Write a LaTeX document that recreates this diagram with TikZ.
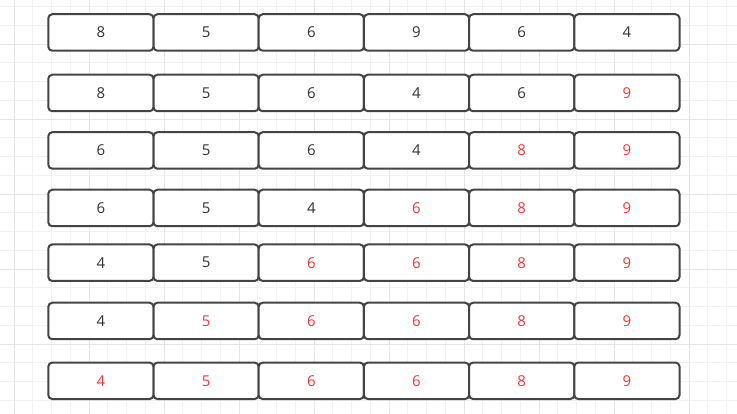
\documentclass[tikz,border=0pt]{standalone}
\usepackage{fontspec}
\setmainfont{Open Sans}
\definecolor{boxline}{HTML}{444444}
\definecolor{txt}{HTML}{333333}
\definecolor{hot}{HTML}{FF3333}
\definecolor{gminor}{HTML}{F2F2F2}
\definecolor{gmajor}{HTML}{E6E6E6}
\tikzset{
  cell/.style={draw=boxline, line width=2pt, rounded corners=4pt, fill=white,
    minimum width=105.2pt, minimum height=36.5pt, inner sep=0pt, outer sep=0pt,
    font=\fontsize{15}{17}\selectfont, text=txt},
  hotcell/.style={cell, text=hot},
  minorgrid/.style={draw=gminor, line width=0.9pt},
  majorgrid/.style={draw=gmajor, line width=0.9pt}
}
\begin{document}
\begin{tikzpicture}[x=1pt,y=-1pt]
\fill[white] (0,0) rectangle (737,414);
\useasboundingbox (0,0) rectangle (737,414);
% grid
\foreach \i in {0,...,38} {
  \draw[minorgrid] ({14+\i*18.75},0) -- ({14+\i*18.75},414);
}
\foreach \i in {0,...,22} {
  \draw[minorgrid] (0,{6.5+\i*18.75}) -- (737,{6.5+\i*18.75});
}
\foreach \i in {0,...,9} {
  \draw[majorgrid] ({14+\i*75},0) -- ({14+\i*75},414);
}
\foreach \i in {0,...,4} {
  \draw[majorgrid] (0,{44+\i*75}) -- (737,{44+\i*75});
}
% rows
\foreach \vals [count=\r from 0] in {
  {8,5,6,9,6,4},
  {8,5,6,4,6,9},
  {6,5,6,4,8,9},
  {6,5,4,6,8,9},
  {4,5,6,6,8,9},
  {4,5,6,6,8,9},
  {4,5,6,6,8,9}} {
  \pgfmathsetmacro{\yc}{{32.5,93,150.5,208,262.7,321,380.8}[\r]}
  \foreach \v [count=\c from 0] in \vals {
    \pgfmathtruncatemacro{\ishot}{\c >= 6-\r ? 1 : 0}
    \ifnum\ishot=1
      \node[hotcell] (b-\r-\c) at ({100.9+\c*105.2},\yc) {\v};
    \else
      \node[cell] (b-\r-\c) at ({100.9+\c*105.2},\yc) {\v};
    \fi
  }
}
\end{tikzpicture}
\end{document}
